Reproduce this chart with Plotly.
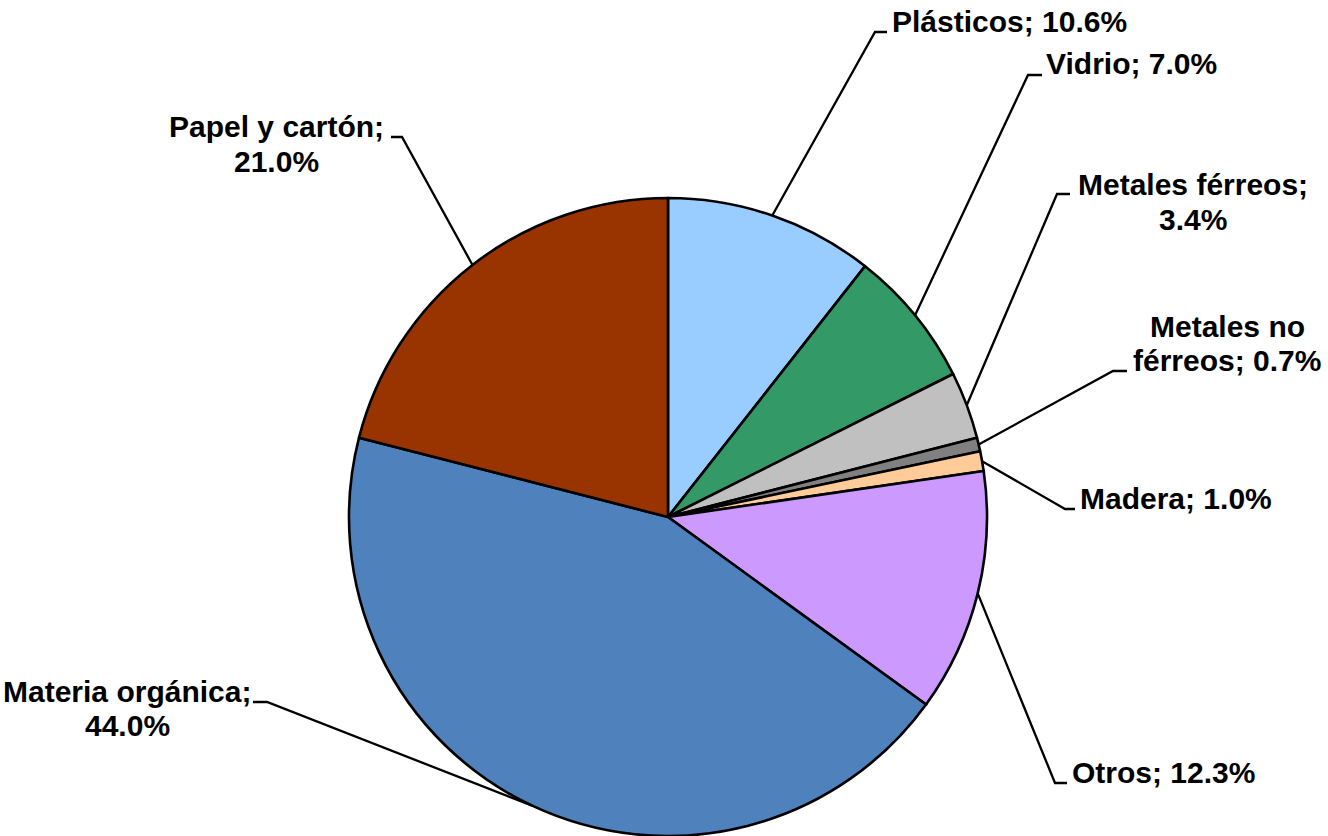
import math
import plotly.graph_objects as go

# ---- data ----
categories = ["Plásticos", "Vidrio", "Metales férreos", "Metales no férreos",
              "Madera", "Otros", "Materia orgánica", "Papel y cartón"]
values = [10.6, 7.0, 3.4, 0.7, 1.0, 12.3, 44.0, 21.0]
colors = ["#99CCFF", "#339966", "#C0C0C0", "#808080",
          "#FFCC99", "#CC99FF", "#4F81BD", "#993300"]

# ---- layout (pixels) ----
W, H = 1328, 836
CX, CY, R = 668, 517, 319
# leader elbow and tick end per label
elbows = [(875, 32), (1028, 75), (1057, 194), (1113, 371),
          (1065, 509), (1055, 783), (267, 702), (402, 137)]
ticks = [(887, 32), (1042, 75), (1070, 194), (1127, 371),
         (1075, 509), (1067, 783), (253, 702), (391, 137)]
# label anchor: x, y of first line (cap centre), xanchor, words on first line (0 = one line)
label_pos = [(890, 22, "left", 0), (1044, 64, "left", 0),
             (1193, 185, "center", 2), (1227, 326, "center", 2),
             (1078, 498, "left", 0), (1070, 772, "left", 0),
             (127, 691, "center", 2), (276, 127, "center", 3)]
LINE_GAP = 34
FONT = dict(family="Liberation Sans, Arial, sans-serif", size=30, color="black", weight=700)


def px(x):
    return x / W


def py(y):
    return 1 - y / H


fig = go.Figure(go.Pie(
    labels=categories, values=values, sort=False, direction="clockwise",
    rotation=0, marker=dict(colors=colors, line=dict(color="black", width=2.6)),
    textinfo="none", hoverinfo="label+percent", showlegend=False,
    domain=dict(x=[px(CX - R), px(CX + R)], y=[max(0, py(CY + R)), py(CY - R)]),
))

total = sum(values)
cum = 0.0
shapes, annotations = [], []
for i, (cat, v) in enumerate(zip(categories, values)):
    mid = (cum + v / 2) / total * 2 * math.pi
    cum += v
    ex, ey = CX + R * math.sin(mid), CY - R * math.cos(mid)
    (bx, by), (tx, ty) = elbows[i], ticks[i]
    path = f"M {px(ex)} {py(ey)} L {px(bx)} {py(by)} L {px(tx)} {py(ty)}"
    shapes.append(dict(type="path", path=path, xref="paper", yref="paper",
                       line=dict(color="black", width=2.3)))
    text = f"{cat}; {v:.1f}%"
    lx, ly, anchor, nfirst = label_pos[i]
    if nfirst:
        words = text.split(" ")
        lines = [" ".join(words[:nfirst]), " ".join(words[nfirst:])]
    else:
        lines = [text]
    for k, line in enumerate(lines):
        annotations.append(dict(text=line, x=px(lx), y=py(ly + k * LINE_GAP),
                                xref="paper", yref="paper", xanchor=anchor,
                                yanchor="middle", showarrow=False, font=FONT))

fig.update_layout(width=W, height=H, margin=dict(l=0, r=0, t=0, b=0),
                  paper_bgcolor="white", plot_bgcolor="white",
                  shapes=shapes, annotations=annotations)
fig.write_html("out.html", config={"displayModeBar": False},
               post_script="document.body.style.margin='0';document.body.style.overflow='hidden';")
